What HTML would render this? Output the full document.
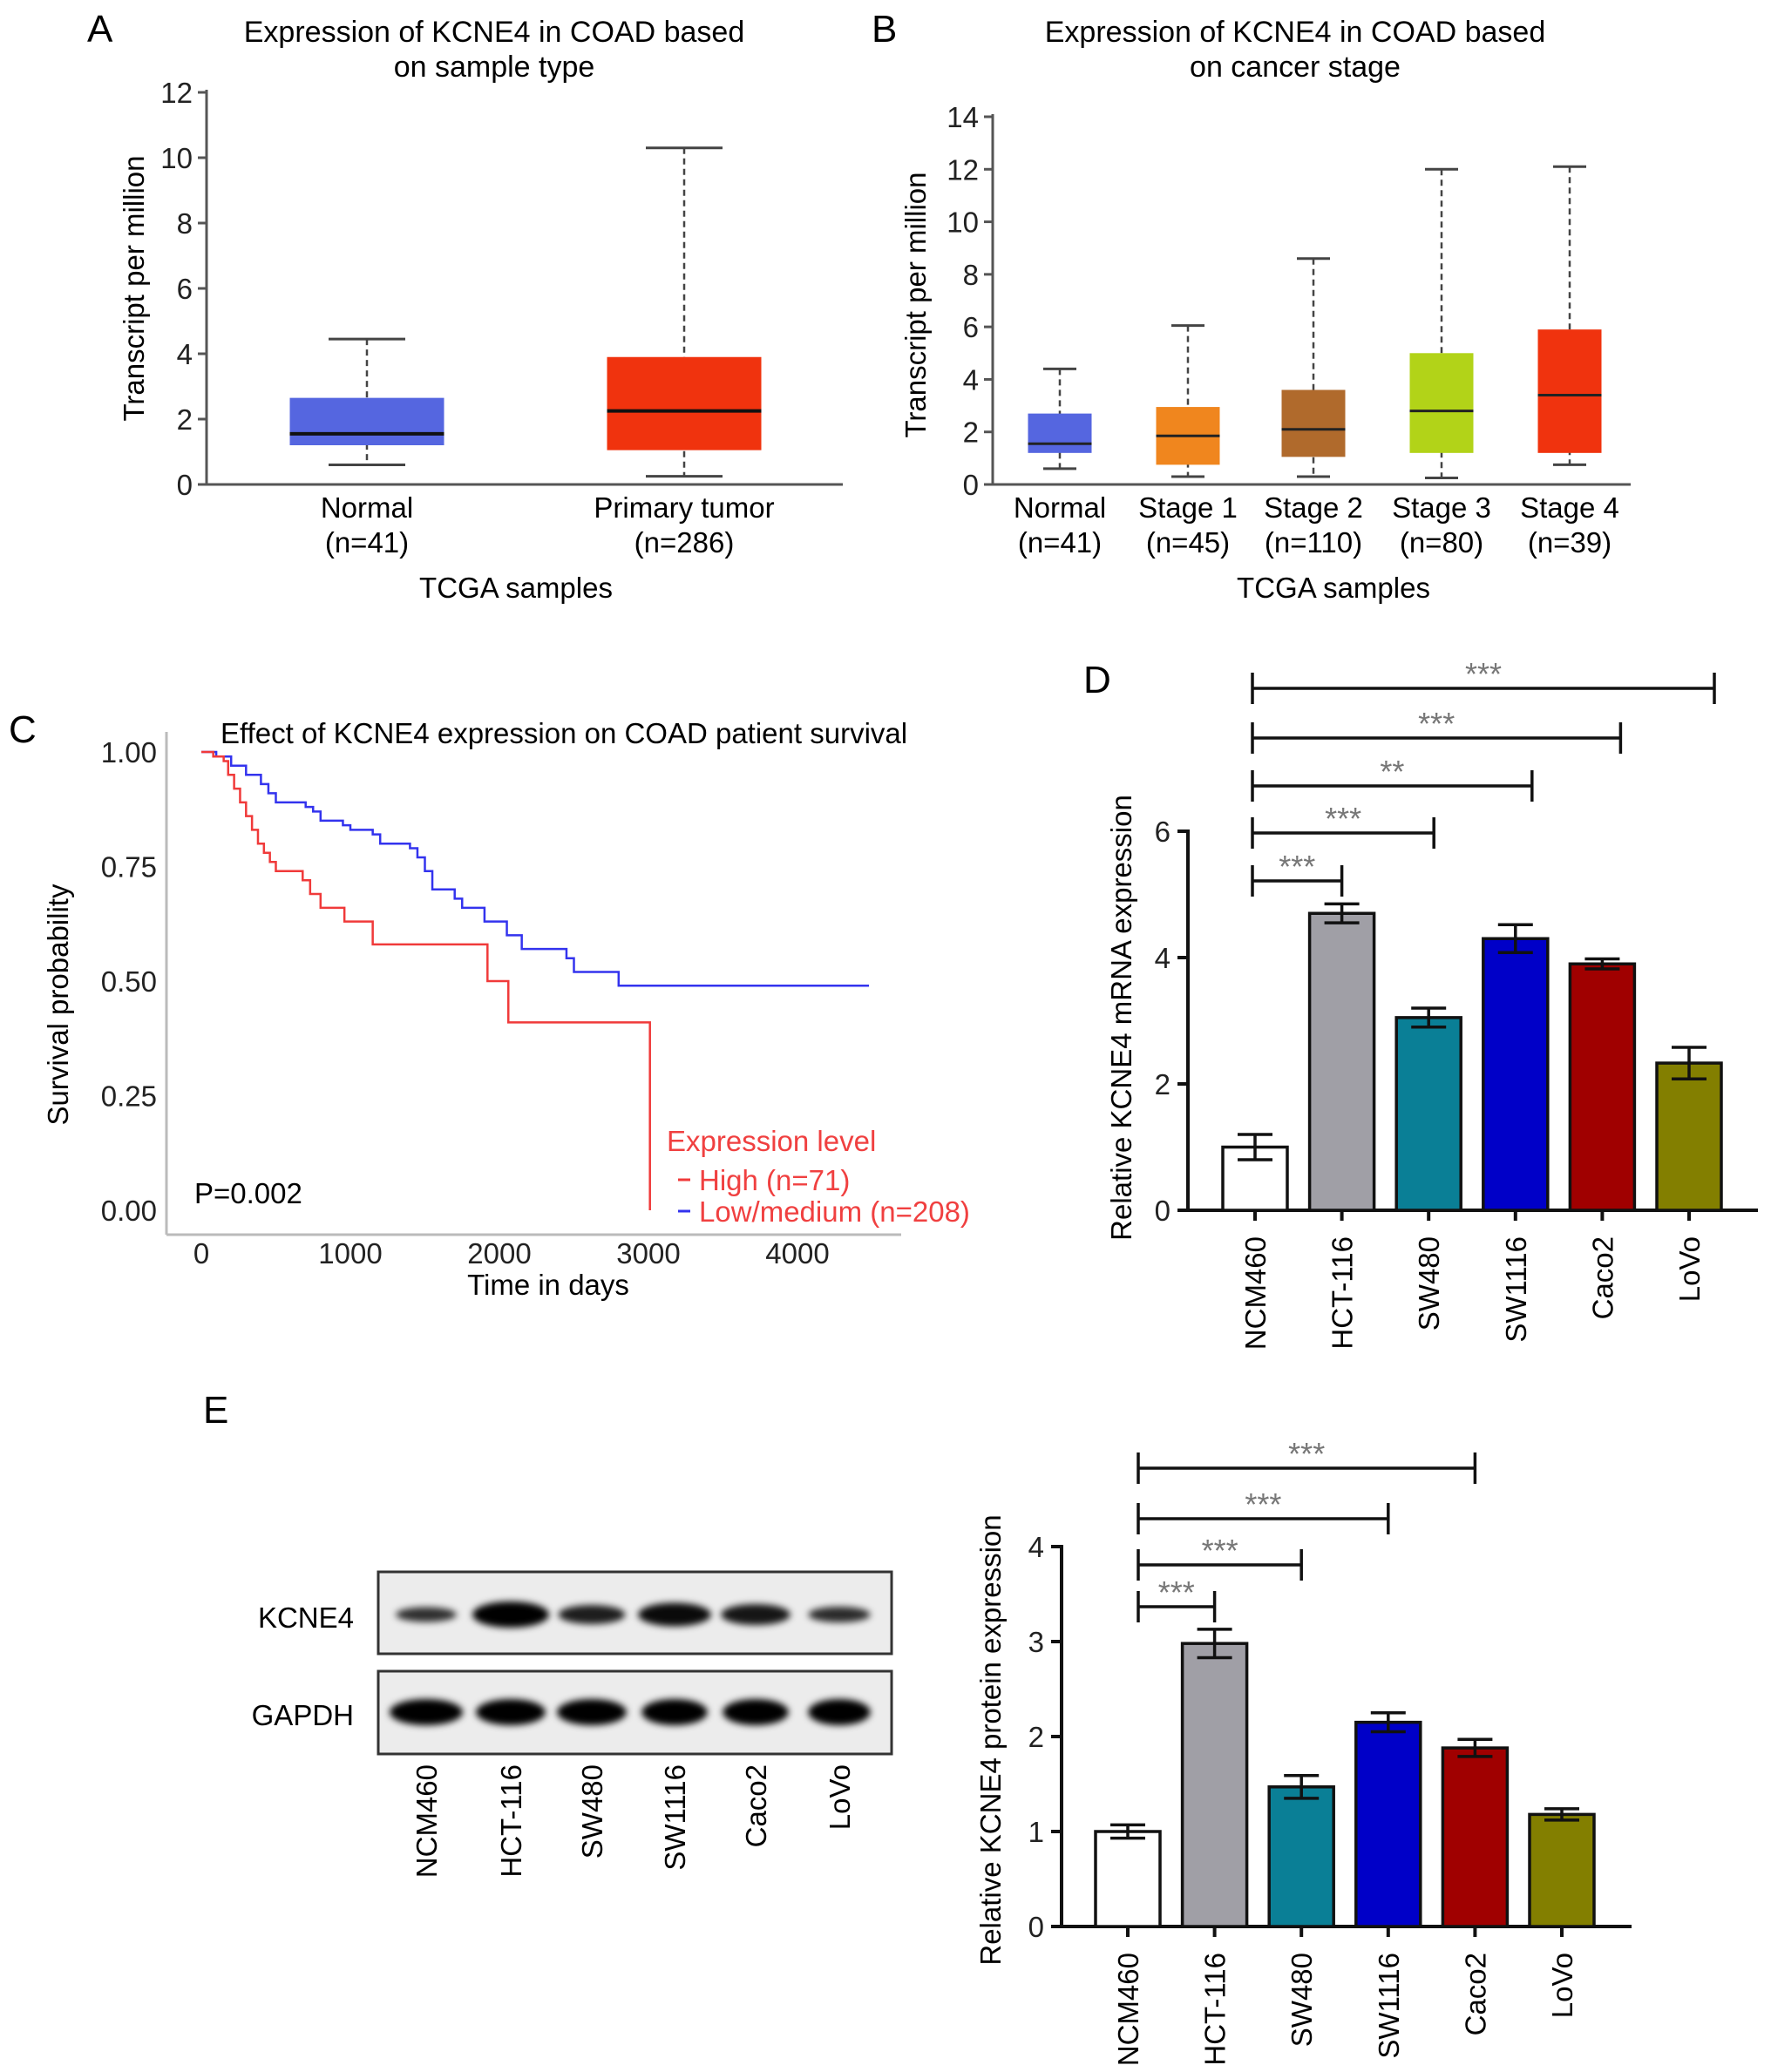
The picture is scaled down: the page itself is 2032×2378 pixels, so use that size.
<!DOCTYPE html>
<html><head><meta charset="utf-8"><style>
html,body{margin:0;padding:0;background:#fff;}
svg{display:block;font-family:"Liberation Sans",Arial,sans-serif;}
</style></head><body>
<svg id="fig" width="2032" height="2378" viewBox="0 0 2032 2378" xmlns="http://www.w3.org/2000/svg">
<defs><filter id="blur" x="-20%" y="-50%" width="140%" height="200%"><feGaussianBlur stdDeviation="4"/></filter></defs>
<text x="100" y="48" font-size="44">A</text>
<text x="1000" y="48" font-size="44">B</text>
<text x="10" y="852" font-size="44">C</text>
<text x="1243" y="795" font-size="44">D</text>
<text x="233" y="1633" font-size="44">E</text>
<g id="root"></g>
</svg>
<script>
// ---- Panel A data ----
const aCats=["Normal","Primary tumor"];
const aN=["(n=41)","(n=286)"];
const aLow=[0.6,0.25], aQ1=[1.2,1.05], aMed=[1.55,2.25], aQ3=[2.65,3.9], aHigh=[4.45,10.3];
const aColors=["#5566e0","#f0330e"];
const aTicks=[0,2,4,6,8,10,12];
// ---- Panel B data ----
const bCats=["Normal","Stage 1","Stage 2","Stage 3","Stage 4"];
const bN=["(n=41)","(n=45)","(n=110)","(n=80)","(n=39)"];
const bLow=[0.6,0.3,0.3,0.25,0.75], bQ1=[1.2,0.75,1.05,1.2,1.2], bMed=[1.55,1.85,2.1,2.8,3.4], bQ3=[2.7,2.95,3.6,5.0,5.9], bHigh=[4.4,6.05,8.6,12.0,12.1];
const bColors=["#5566e0","#f0861e","#b06a2c","#b2d318","#f0330e"];
const bTicks=[0,2,4,6,8,10,12,14];
// ---- Panel C data ----
const highT=[0,80,150,180,220,260,300,340,380,420,460,500,680,730,800,960,1150,1920,2060,3010];
const highS=[1.0,0.99,0.98,0.95,0.92,0.89,0.86,0.83,0.80,0.78,0.76,0.74,0.72,0.69,0.66,0.63,0.58,0.50,0.41,0.0];
const lowT=[0,100,200,300,400,450,500,700,750,800,950,1000,1150,1200,1400,1450,1500,1550,1700,1750,1900,2050,2150,2450,2500,2800,4480];
const lowS=[1.0,0.99,0.97,0.95,0.93,0.91,0.89,0.88,0.87,0.85,0.84,0.83,0.82,0.80,0.79,0.77,0.74,0.70,0.68,0.66,0.63,0.60,0.57,0.55,0.52,0.49,0.49];
const cXTicks=[0,1000,2000,3000,4000];
const cYTicks=[0,0.25,0.5,0.75,1.0];
const cYLabels=["0.00","0.25","0.50","0.75","1.00"];
// ---- Panel D data ----
const cells=["NCM460","HCT-116","SW480","SW1116","Caco2","LoVo"];
const cellColors=["#ffffff","#a09fa6","#0a7f96","#0000c8","#a00000","#837f00"];
const dVals=[1.0,4.7,3.05,4.3,3.9,2.33];
const dErr=[0.2,0.15,0.15,0.22,0.08,0.25];
const dTicks=[0,2,4,6];
const dSigTo=[1,2,3,4,5];
const dSigLbl=["***","***","**","***","***"];
// ---- Panel E data ----
const eVals=[1.0,2.98,1.47,2.15,1.88,1.18];
const eErr=[0.07,0.15,0.12,0.1,0.09,0.06];
const eTicks=[0,1,2,3,4];
const eSigTo=[1,2,3,4];
const eSigLbl=["***","***","***","***"];
const kcneBand=[0.35,1.0,0.6,0.85,0.7,0.4];
const gapdhBand=[1.0,0.95,0.95,0.9,0.9,0.85];

const NS="http://www.w3.org/2000/svg";
const root=document.getElementById('root');
function mk(tag,attrs,parent,txt){const e=document.createElementNS(NS,tag);for(const k in attrs)e.setAttribute(k,attrs[k]);if(txt!==undefined)e.textContent=txt;(parent||root).appendChild(e);return e;}
const FS=33;

// ---------- Panel A ----------
(function(){
  const g=mk('g',{});
  
  
  const x0=237,x1=967,yb=556,yt=106,vmax=12;
  const y=v=>yb-(v/vmax)*(yb-yt);
  const xc=[421,785],bw=177;
  let t=mk('text',{x:567,y:48,'font-size':34,'text-anchor':'middle'},g,'Expression of KCNE4 in COAD based');
  
  t=mk('text',{x:567,y:88,'font-size':34,'text-anchor':'middle'},g,'on sample type');
  
  mk('line',{x1:x0,y1:yt-3,x2:x0,y2:yb,stroke:'#555','stroke-width':3},g);
  mk('line',{x1:x0,y1:yb,x2:x1,y2:yb,stroke:'#555','stroke-width':3},g);
  aTicks.forEach(v=>{mk('line',{x1:x0-10,y1:y(v),x2:x0,y2:y(v),stroke:'#555','stroke-width':3},g);
    const tl=mk('text',{x:x0-16,y:y(v)+12,'font-size':FS,'text-anchor':'end',fill:'#222'},g,String(v));
    });
  t=mk('text',{transform:`translate(165,331) rotate(-90)`,'font-size':FS,'text-anchor':'middle'},g,'Transcript per million');
  
  aCats.forEach((c,i)=>{
    const cx=xc[i];
    mk('line',{x1:cx,y1:y(aHigh[i]),x2:cx,y2:y(aLow[i]),stroke:'#444','stroke-width':2.5,'stroke-dasharray':'7,5'},g);
    mk('line',{x1:cx-44,y1:y(aHigh[i]),x2:cx+44,y2:y(aHigh[i]),stroke:'#444','stroke-width':3},g);
    mk('line',{x1:cx-44,y1:y(aLow[i]),x2:cx+44,y2:y(aLow[i]),stroke:'#444','stroke-width':3},g);
    const r=mk('rect',{x:cx-bw/2,y:y(aQ3[i]),width:bw,height:y(aQ1[i])-y(aQ3[i]),fill:aColors[i]},g);
    
    mk('line',{x1:cx-bw/2,y1:y(aMed[i]),x2:cx+bw/2,y2:y(aMed[i]),stroke:'#111','stroke-width':4},g);
    const l=mk('text',{x:cx,y:594,'font-size':FS,'text-anchor':'middle'},g,c);
    
    mk('text',{x:cx,y:634,'font-size':FS,'text-anchor':'middle'},g,aN[i]);
  });
  t=mk('text',{x:592,y:686,'font-size':FS,'text-anchor':'middle'},g,'TCGA samples');
  
})();

// ---------- Panel B ----------
(function(){
  const g=mk('g',{});
  
  
  const x0=1139,x1=1871,yb=556,yt=134,vmax=14;
  const y=v=>yb-(v/vmax)*(yb-yt);
  const xc=[1216,1363,1507,1654,1801],bw=73;
  let t=mk('text',{x:1486,y:48,'font-size':34,'text-anchor':'middle'},g,'Expression of KCNE4 in COAD based');
  
  t=mk('text',{x:1486,y:88,'font-size':34,'text-anchor':'middle'},g,'on cancer stage');
  
  mk('line',{x1:x0,y1:yt-3,x2:x0,y2:yb,stroke:'#555','stroke-width':3},g);
  mk('line',{x1:x0,y1:yb,x2:x1,y2:yb,stroke:'#555','stroke-width':3},g);
  bTicks.forEach(v=>{mk('line',{x1:x0-10,y1:y(v),x2:x0,y2:y(v),stroke:'#555','stroke-width':3},g);
    const tl=mk('text',{x:x0-16,y:y(v)+12,'font-size':FS,'text-anchor':'end',fill:'#222'},g,String(v));
    });
  t=mk('text',{transform:`translate(1062,350) rotate(-90)`,'font-size':FS,'text-anchor':'middle'},g,'Transcript per million');
  
  bCats.forEach((c,i)=>{
    const cx=xc[i];
    mk('line',{x1:cx,y1:y(bHigh[i]),x2:cx,y2:y(bLow[i]),stroke:'#444','stroke-width':2.5,'stroke-dasharray':'7,5'},g);
    mk('line',{x1:cx-19,y1:y(bHigh[i]),x2:cx+19,y2:y(bHigh[i]),stroke:'#444','stroke-width':3},g);
    mk('line',{x1:cx-19,y1:y(bLow[i]),x2:cx+19,y2:y(bLow[i]),stroke:'#444','stroke-width':3},g);
    const r=mk('rect',{x:cx-bw/2,y:y(bQ3[i]),width:bw,height:y(bQ1[i])-y(bQ3[i]),fill:bColors[i]},g);
    
    mk('line',{x1:cx-bw/2,y1:y(bMed[i]),x2:cx+bw/2,y2:y(bMed[i]),stroke:'#222','stroke-width':3},g);
    const l=mk('text',{x:cx,y:594,'font-size':FS,'text-anchor':'middle'},g,c);
    
    mk('text',{x:cx,y:634,'font-size':FS,'text-anchor':'middle'},g,bN[i]);
  });
  t=mk('text',{x:1530,y:686,'font-size':FS,'text-anchor':'middle'},g,'TCGA samples');
  
})();

// ---------- Panel C ----------
(function(){
  const g=mk('g',{});
  
  
  const ax=191,ay=1417,axEnd=1034;
  const x=d=>231+d/1000*171;
  const y=s=>1389-s*526;
  mk('line',{x1:ax,y1:840,x2:ax,y2:ay,stroke:'#bbb','stroke-width':3},g);
  mk('line',{x1:ax,y1:ay,x2:axEnd,y2:ay,stroke:'#bbb','stroke-width':3},g);
  cYTicks.forEach((v,i)=>{const t=mk('text',{x:180,y:y(v)+12,'font-size':FS,'text-anchor':'end',fill:'#222'},g,cYLabels[i]);
    });
  cXTicks.forEach(v=>{const t=mk('text',{x:x(v),y:1450,'font-size':FS,'text-anchor':'middle',fill:'#222'},g,String(v));
    });
  let t=mk('text',{x:629,y:1486,'font-size':FS,'text-anchor':'middle'},g,'Time in days');
  
  t=mk('text',{transform:'translate(78,1153) rotate(-90)','font-size':FS,'text-anchor':'middle'},g,'Survival probability');
  
  t=mk('text',{x:253,y:853,'font-size':33},g,'Effect of KCNE4 expression on COAD patient survival');
  
  function step(T,S){let d=`M${x(T[0])},${y(S[0])}`;for(let i=1;i<T.length;i++){d+=` H${x(T[i])} V${y(S[i])}`;}return d;}
  const lo=mk('path',{d:step(lowT,lowS),fill:'none',stroke:'#3333ee','stroke-width':2.5},g);
  
  const hi=mk('path',{d:step(highT,highS),fill:'none',stroke:'#f03a3a','stroke-width':2.5},g);
  
  t=mk('text',{x:223,y:1381,'font-size':FS},g,'P=0.002');
  
  t=mk('text',{x:765,y:1321,'font-size':FS,fill:'#f04040'},g,'Expression level');
  
  mk('line',{x1:778,y1:1354,x2:792,y2:1354,stroke:'#f03a3a','stroke-width':3},g);
  t=mk('text',{x:802,y:1366,'font-size':FS,fill:'#f04040'},g,'High (n=71)');
  
  mk('line',{x1:778,y1:1390,x2:792,y2:1390,stroke:'#3333ee','stroke-width':3},g);
  t=mk('text',{x:802,y:1402,'font-size':FS,fill:'#f04040'},g,'Low/medium (n=208)');
  
})();

// ---------- Bar chart helper ----------
function barChart(o){
  const g=mk('g',{});
  
  
  const y=v=>o.yb-(v/o.vmax)*(o.yb-o.yt);
  const xc=i=>o.xs+i*o.step;
  mk('line',{x1:o.x0,y1:o.yt-2,x2:o.x0,y2:o.yb,stroke:'#111','stroke-width':4},g);
  mk('line',{x1:o.x0-12,y1:o.yb,x2:o.x1,y2:o.yb,stroke:'#111','stroke-width':4},g);
  o.ticks.forEach(v=>{mk('line',{x1:o.x0-12,y1:y(v),x2:o.x0,y2:y(v),stroke:'#111','stroke-width':4},g);
    const t=mk('text',{x:o.x0-20,y:y(v)+12,'font-size':FS,'text-anchor':'end',fill:'#222'},g,String(v));
    });
  let t=mk('text',{transform:`translate(${o.ylx},${o.yly}) rotate(-90)`,'font-size':FS,'text-anchor':'middle'},g,o.ylab);
  
  cells.forEach((c,i)=>{
    const cx=xc(i),bw=74;
    const r=mk('rect',{x:cx-bw/2,y:y(o.vals[i]),width:bw,height:y(0)-y(o.vals[i]),fill:cellColors[i],stroke:'#111','stroke-width':3.5},g);
    
    const hi=y(o.vals[i]+o.err[i]),lo=y(o.vals[i]-o.err[i]);
    mk('line',{x1:cx,y1:hi,x2:cx,y2:lo,stroke:'#111','stroke-width':3.5},g);
    mk('line',{x1:cx-20,y1:hi,x2:cx+20,y2:hi,stroke:'#111','stroke-width':3.5},g);
    mk('line',{x1:cx-20,y1:lo,x2:cx+20,y2:lo,stroke:'#111','stroke-width':3.5},g);
    mk('line',{x1:cx,y1:o.yb,x2:cx,y2:o.yb+12,stroke:'#111','stroke-width':4},g);
    const l=mk('text',{transform:`translate(${cx+12},${o.yb+30}) rotate(-90)`,'font-size':FS,'text-anchor':'end'},g,c);
    
  });
  o.sigTo.forEach((j,k)=>{
    const ly=o.sigY[k],xl=xc(0)+o.leftOff,xr=xc(j)+o.rightOff[k];
    const br=mk('g',{},g);
    
    mk('line',{x1:xl,y1:ly,x2:xr,y2:ly,stroke:'#111','stroke-width':3.5},br);
    mk('line',{x1:xl,y1:ly-18,x2:xl,y2:ly+18,stroke:'#111','stroke-width':3.5},br);
    mk('line',{x1:xr,y1:ly-18,x2:xr,y2:ly+18,stroke:'#111','stroke-width':3.5},br);
    mk('text',{x:(xl+xr)/2,y:ly-4,'font-size':36,'text-anchor':'middle',fill:'#777'},br,o.sigLbl[k]);
  });
}
barChart({name:'panel-d-bars',x0:1363,x1:2017,yb:1389,yt:954,vmax:6,xs:1440,step:99.6,vals:dVals,err:dErr,ticks:dTicks,
  sigTo:dSigTo,sigLbl:dSigLbl,sigY:[1011,956,902,847,790],leftOff:-3,rightOff:[0,6,19,21,29],
  ylab:'Relative KCNE4 mRNA expression',ylx:1298,yly:1168});
barChart({name:'panel-e-bars',x0:1218,x1:1872,yb:2211,yt:1775,vmax:4,xs:1294,step:99.6,vals:eVals,err:eErr,ticks:eTicks,
  sigTo:eSigTo,sigLbl:eSigLbl,sigY:[1844,1796,1743,1685],leftOff:12,rightOff:[0,0,0,0],
  ylab:'Relative KCNE4 protein expression',ylx:1148,yly:1997});

// ---------- Western blot ----------
(function(){
  const g=mk('g',{});
  
  
  const lanes=[489,586,679,774,867,963];
  const b1=mk('rect',{x:434,y:1804,width:589,height:94,fill:'#ececec',stroke:'#333','stroke-width':3},g);
  
  const b2=mk('rect',{x:434,y:1918,width:589,height:95,fill:'#ececec',stroke:'#333','stroke-width':3},g);
  
  let t=mk('text',{x:406,y:1868,'font-size':FS,'text-anchor':'end'},g,'KCNE4');
  
  t=mk('text',{x:406,y:1980,'font-size':FS,'text-anchor':'end'},g,'GAPDH');
  
  lanes.forEach((cx,i)=>{
    const a=kcneBand[i];
    const e1=mk('ellipse',{cx:cx,cy:1853,rx:30+14*a,ry:5+10*a,fill:'#000','fill-opacity':0.7+0.3*a,filter:'url(#blur)'},g);
    
    const b=gapdhBand[i];
    const e2=mk('ellipse',{cx:cx,cy:1965,rx:42*b,ry:15,fill:'#000',filter:'url(#blur)'},g);
    
    const l=mk('text',{transform:`translate(${cx+12},2025) rotate(-90)`,'font-size':FS,'text-anchor':'end'},g,cells[i]);
    
  });
})();
</script>
</body></html>
